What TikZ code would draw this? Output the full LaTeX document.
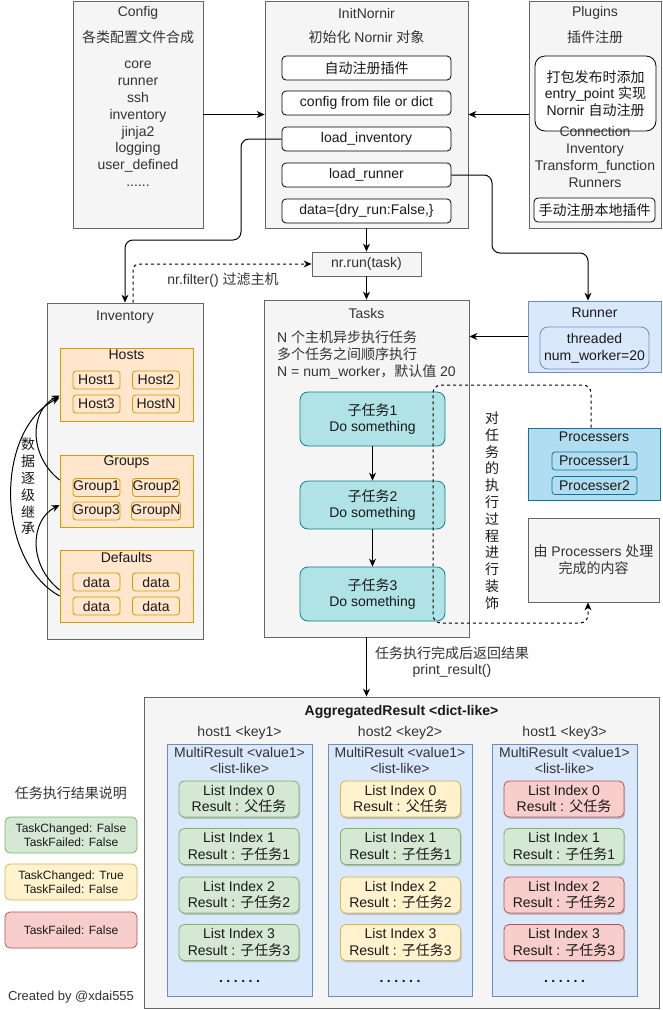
\documentclass[tikz,border=0pt]{standalone}
\usepackage{fontspec}
\setmainfont{Liberation Sans}
\newfontfamily\cjkf{Noto Sans CJK SC}
\newcommand\zh[1]{{\cjkf #1}}
\usetikzlibrary{arrows.meta,shadows}
\definecolor{gfill}{HTML}{F5F5F5}
\definecolor{gdraw}{HTML}{666666}
\definecolor{tc}{HTML}{333333}
\definecolor{ofill}{HTML}{FFE6CC}
\definecolor{odraw}{HTML}{D79B00}
\definecolor{tfill}{HTML}{B0E3E6}
\definecolor{tdraw}{HTML}{0E8088}
\definecolor{bfill}{HTML}{DAE8FC}
\definecolor{bdraw}{HTML}{6C8EBF}
\definecolor{pfill}{HTML}{B1DDF0}
\definecolor{pdraw}{HTML}{10739E}
\definecolor{grfill}{HTML}{D5E8D4}
\definecolor{grdraw}{HTML}{82B366}
\definecolor{yefill}{HTML}{FFF2CC}
\definecolor{yedraw}{HTML}{D6B656}
\definecolor{rdfill}{HTML}{F8CECC}
\definecolor{rddraw}{HTML}{B85450}
\tikzset{
  sz/.style 2 args={minimum width=#1, minimum height=#2},
  txt/.style={font=\fontsize{14}{16.8}\selectfont, text=tc, inner sep=0pt, align=center},
  dtxt/.style={txt, text=black!90},
  gbox/.style={draw=gdraw, fill=gfill, line width=0.8pt, txt},
  wbox/.style={draw=black, fill=white, rounded corners=4pt, line width=0.8pt, dtxt},
  obox/.style={draw=odraw, fill=ofill, line width=0.8pt, dtxt},
  oitem/.style={obox, rounded corners=3pt, sz={47}{18}},
  tealbox/.style={draw=tdraw, fill=tfill, line width=0.8pt, rounded corners=8pt, dtxt},
  bbox/.style={draw=bdraw, fill=bfill, line width=0.8pt, dtxt},
  pbox/.style={draw=pdraw, fill=pfill, line width=0.8pt, dtxt},
  mrbox/.style={draw=bdraw, fill=bfill, line width=0.8pt},
  shad/.style={drop shadow={shadow xshift=1.2pt, shadow yshift=-1.8pt, fill=black, opacity=0.18}},
  resG/.style={draw=grdraw, fill=grfill, line width=0.8pt, rounded corners=5pt, dtxt},
  resY/.style={draw=yedraw, fill=yefill, line width=0.8pt, rounded corners=5pt, dtxt},
  resR/.style={draw=rddraw, fill=rdfill, line width=0.8pt, rounded corners=5pt, dtxt},
  item/.style={shad, sz={120}{36}},
  leg/.style={sz={132}{36}, font=\fontsize{12}{13.8}\selectfont},
  arr/.style={-{Stealth[length=8pt,width=7pt]}, line width=1pt, draw=black},
  dsh/.style={dash pattern=on 3pt off 3pt},
}
\begin{document}
\begin{tikzpicture}[x=1pt,y=-1pt]
\useasboundingbox (0,0) rectangle (662,1010);
\fill[white] (0,0) rectangle (662,1010);

% ---------- Config
\node[gbox, sz={130}{227}] (config) at (138,114.5) {};
\node[txt] (configT) at (138,13) {Config};
\node[txt] (configS) at (138,37) {\zh{各类配置文件合成}};
\node[txt] (configL) at (138,124) {core\\runner\\ssh\\inventory\\jinja2\\logging\\user\_defined\\......};

% ---------- InitNornir
\node[gbox, sz={203}{227}] (init) at (366.5,114.5) {};
\node[txt] (initT) at (366.5,13) {InitNornir};
\node[txt] (initS) at (366.5,37) {\zh{初始化} Nornir \zh{对象}};
\node[wbox, sz={169}{24}] (autoreg) at (366.5,68) {\zh{自动注册插件}};
\node[wbox, sz={169}{24}] (cfgfile) at (366.5,103) {config from file or dict};
\node[wbox, sz={169}{24}] (loadinv) at (366.5,139) {load\_inventory};
\node[wbox, sz={169}{24}] (loadrun) at (366.5,175) {load\_runner};
\node[wbox, sz={169}{24}] (datan) at (366.5,211) {data=\{dry\_run:False,\}};

% ---------- Plugins
\node[gbox, sz={132}{227}] (plugins) at (595,114.5) {};
\node[txt] (plugT) at (595,13) {Plugins};
\node[txt] (plugS) at (595,37) {\zh{插件注册}};
\node[wbox, rounded corners=10pt, sz={121}{75}] (entry) at (595.5,93.5) {\zh{打包发布时添加}\\entry\_point \zh{实现}\\Nornir \zh{自动注册}};
\node[txt] (plugL) at (595,157) {Connection\\Inventory\\Transform\_function\\Runners};
\node[wbox, sz={121}{24}] (manual) at (594.5,210) {\zh{手动注册本地插件}};

% ---------- nr.run
\node[gbox, sz={109}{24}] (nrrun) at (366.5,264) {nr.run(task)};

% ---------- Inventory
\node[gbox, sz={156}{336}] (inv) at (125,471) {};
\node[txt] (invT) at (125,317) {Inventory};
\node[obox, sz={133}{73}] (hosts) at (126.5,384.5) {};
\node[dtxt] (hostsT) at (126.5,355) {Hosts};
\node[oitem] (h1) at (96.5,380) {Host1};
\node[oitem] (h2) at (156,380) {Host2};
\node[oitem] (h3) at (96.5,404) {Host3};
\node[oitem] (hn) at (156,404) {HostN};
\node[obox, sz={133}{72}] (groups) at (126.5,491) {};
\node[dtxt] (groupsT) at (126.5,462) {Groups};
\node[oitem] (g1) at (96.5,487.5) {Group1};
\node[oitem] (g2) at (156,487.5) {Group2};
\node[oitem] (g3) at (96.5,511) {Group3};
\node[oitem] (gn) at (156,511) {GroupN};
\node[obox, sz={133}{72}] (defaults) at (126.5,586) {};
\node[dtxt] (defaultsT) at (126.5,557) {Defaults};
\node[oitem] (d1) at (96.5,582) {data};
\node[oitem] (d2) at (156,582) {data};
\node[oitem] (d3) at (96.5,606) {data};
\node[oitem] (d4) at (156,606) {data};
\node[dtxt, font=\cjkf\fontsize{14}{16.8}\selectfont] (inherit) at (28,486.5) {数\\据\\逐\\级\\继\\承};

% ---------- Tasks
\node[gbox, sz={205}{337}] (tasks) at (366.5,468.5) {};
\node[txt] (tasksT) at (366.5,313) {Tasks};
\node[txt, align=left, anchor=west] (tasksD) at (277,355) {N \zh{个主机异步执行任务}\\\zh{多个任务之间顺序执行}\\N = num\_worker\zh{，默认值} 20};
\node[tealbox, sz={145}{54}] (sub1) at (372.5,419) {\zh{子任务}1\\Do something};
\node[tealbox, sz={145}{48}] (sub2) at (372.5,505) {\zh{子任务}2\\Do something};
\node[tealbox, sz={145}{54}] (sub3) at (372.5,594) {\zh{子任务}3\\Do something};

% ---------- Runner
\node[bbox, sz={133}{71}] (runner) at (594.5,336.5) {};
\node[dtxt] (runnerT) at (594.5,313) {Runner};
\node[bbox, rounded corners=8pt, sz={109}{42}] (threaded) at (594.5,348) {threaded\\num\_worker=20};

% ---------- Processers
\node[pbox, sz={132}{72}] (proc) at (594,464) {};
\node[dtxt] (procT) at (594,437) {Processers};
\node[pbox, rounded corners=3pt, sz={85}{18}] (p1) at (594.5,461) {Processer1};
\node[pbox, rounded corners=3pt, sz={85}{18}] (p2) at (594.5,485.5) {Processer2};
\node[gbox, sz={131}{84}] (done) at (593.5,560) {\zh{由} Processers \zh{处理}\\\zh{完成的内容}};
\node[dtxt, font=\cjkf\fontsize{14}{16.8}\selectfont] (deco) at (492,510.5) {对\\任\\务\\的\\执\\行\\过\\程\\进\\行\\装\\饰};

% ---------- AggregatedResult
\node[gbox, sz={515}{311}] (agg) at (401.5,852.5) {};
\node[dtxt, font=\bfseries\fontsize{14}{16.8}\selectfont] (aggT) at (401.5,712) {AggregatedResult <dict-like>};
\node[txt] (k1) at (239.5,733) {host1 <key1>};
\node[txt] (k2) at (400,733) {host2 <key2>};
\node[txt] (k3) at (564.5,733) {host1 <key3>};
\node[mrbox, sz={145}{252}] (mr1) at (239.5,870) {};
\node[mrbox, sz={144}{252}] (mr2) at (400,870) {};
\node[mrbox, sz={145}{252}] (mr3) at (564.5,870) {};
\node[txt] (mr1T) at (239.5,760.5) {MultiResult <value1>\\<list-like>};
\node[txt] (mr2T) at (400,760.5) {MultiResult <value1>\\<list-like>};
\node[txt] (mr3T) at (564.5,760.5) {MultiResult <value1>\\<list-like>};
% column 1
\node[resG, item] (a0) at (239,799) {List Index 0\\Result : \zh{父任务}};
\node[resG, item] (a1) at (239,846.5) {List Index 1\\Result : \zh{子任务}1};
\node[resG, item] (a2) at (239,895) {List Index 2\\Result : \zh{子任务}2};
\node[resG, item] (a3) at (239,942.5) {List Index 3\\Result : \zh{子任务}3};
% column 2
\node[resY, item] (b0) at (400.5,799) {List Index 0\\Result : \zh{父任务}};
\node[resG, item] (b1) at (400.5,846.5) {List Index 1\\Result : \zh{子任务}1};
\node[resY, item] (b2) at (400.5,895) {List Index 2\\Result : \zh{子任务}2};
\node[resY, item] (b3) at (400.5,942.5) {List Index 3\\Result : \zh{子任务}3};
% column 3
\node[resR, item] (c0) at (564,799) {List Index 0\\Result : \zh{父任务}};
\node[resG, item] (c1) at (564,846.5) {List Index 1\\Result : \zh{子任务}1};
\node[resR, item] (c2) at (564,895) {List Index 2\\Result : \zh{子任务}2};
\node[resR, item] (c3) at (564,942.5) {List Index 3\\Result : \zh{子任务}3};
\node[dtxt, font=\bfseries\fontsize{14}{16.8}\selectfont] (dots1) at (239.5,981) {.\hspace{3.5pt}.\hspace{3.5pt}.\hspace{3.5pt}.\hspace{3.5pt}.\hspace{3.5pt}.};
\node[dtxt, font=\bfseries\fontsize{14}{16.8}\selectfont] (dots2) at (400,981) {.\hspace{3.5pt}.\hspace{3.5pt}.\hspace{3.5pt}.\hspace{3.5pt}.\hspace{3.5pt}.};
\node[dtxt, font=\bfseries\fontsize{14}{16.8}\selectfont] (dots3) at (564.5,981) {.\hspace{3.5pt}.\hspace{3.5pt}.\hspace{3.5pt}.\hspace{3.5pt}.\hspace{3.5pt}.};

% ---------- Legend
\node[txt] (legT) at (71,793) {\zh{任务执行结果说明}};
\node[resG, leg] (lg1) at (71,835) {TaskChanged: False\\TaskFailed: False};
\node[resY, leg] (lg2) at (71,882) {TaskChanged: True\\TaskFailed: False};
\node[resR, leg] (lg3) at (71,930) {TaskFailed: False};
\node[txt, font=\fontsize{13}{15.6}\selectfont] (credit) at (71,997) {Created by @xdai555};

% ---------- Connectors
\draw[arr] (config) -- (init);
\draw[arr] (plugins) -- (init);
\draw[arr, rounded corners=8pt] (loadinv.west) -- (241,139) -- (241,240) -- (125,240) -- (inv.north);
\draw[arr, rounded corners=8pt] (loadrun.east) -- (492,175) -- (492,253) -- (588,253) -- ([xshift=-6.5pt]runner.north);
\draw[arr] (init) -- (nrrun);
\draw[arr] (nrrun) -- (tasks);
\draw[arr, dsh, rounded corners=6pt] ([xshift=8pt]inv.north) |- (nrrun.west);
\node[txt] (filterL) at (223,280) {nr.filter() \zh{过滤主机}};
\draw[arr] (runner.west) -- (runner.west -| tasks.east);
\draw[arr] (sub1) -- (sub2);
\draw[arr] (sub2) -- (sub3);
\draw[arr, dsh, rounded corners=8pt] ([xshift=-3pt]proc.north) -- (591,385) -- (433,385) -- (433,623) -- (588,623) -- ([xshift=-5.5pt]done.south);
\draw[arr] (tasks.south) -- (tasks.south |- agg.north);
\node[txt] (retL) at (452,662) {\zh{任务执行完成后返回结果}\\print\_result()};
% inheritance curves
\draw[arr] ([yshift=11pt]groups.west) .. controls (28,455) and (30,410) .. ([yshift=-11pt]hosts.west);
\draw[arr] ([yshift=-4pt]defaults.west) .. controls (28,565) and (30,520) .. ([yshift=-14pt]groups.west);
\draw[arr] ([yshift=-10pt]defaults.west) .. controls (-5,560) and (-5,430) .. ([yshift=-13pt]hosts.west);
\end{tikzpicture}
\end{document}
